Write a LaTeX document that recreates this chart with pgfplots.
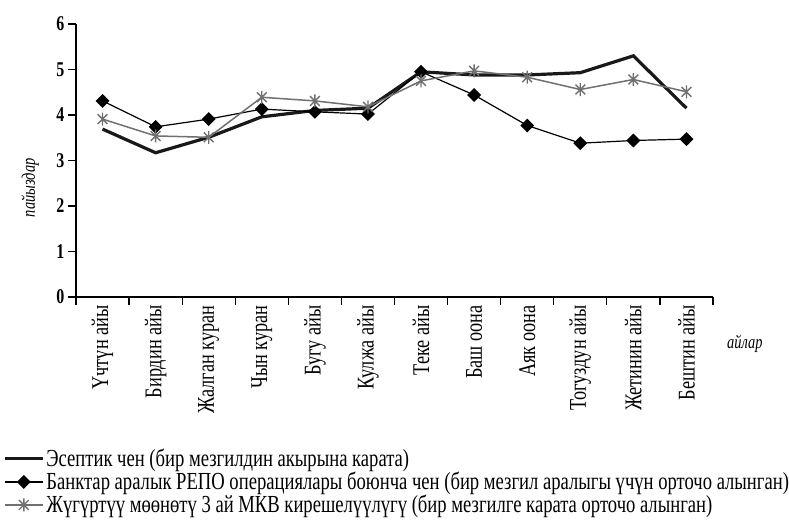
\documentclass[border=0pt]{standalone}
\usepackage{fontspec}
\setmainfont{Liberation Serif}[FakeStretch=0.76]
\usepackage{pgfplots}
\pgfplotsset{compat=1.18}
\definecolor{sgray}{HTML}{707070}
\pgfdeclareplotmark{xstar}{%
  \pgfpathmoveto{\pgfqpoint{0pt}{\pgfplotmarksize}}%
  \pgfpathlineto{\pgfqpoint{0pt}{-\pgfplotmarksize}}%
  \pgfpathmoveto{\pgfqpoint{-.75\pgfplotmarksize}{.75\pgfplotmarksize}}%
  \pgfpathlineto{\pgfqpoint{.75\pgfplotmarksize}{-.75\pgfplotmarksize}}%
  \pgfpathmoveto{\pgfqpoint{-.75\pgfplotmarksize}{-.75\pgfplotmarksize}}%
  \pgfpathlineto{\pgfqpoint{.75\pgfplotmarksize}{.75\pgfplotmarksize}}%
  \pgfusepathqstroke}
\begin{document}
\begin{tikzpicture}
\begin{axis}[
  scale only axis, width=637pt, height=273pt,
  xmin=0.5, xmax=12.5, ymin=0, ymax=6,
  axis lines=left,
  axis line style={line width=1.5pt, -},
  ytick={0,...,6},
  xtick={0.5,1.5,...,12.5},
  xticklabels={},
  extra x ticks={1,...,12},
  extra x tick labels={Үчтүн айы,Бирдин айы,Жалган куран,Чын куран,Бугу айы,Кулжа айы,Теке айы,Баш оона,Аяк оона,Тогуздун айы,Жетинин айы,Бештин айы},
  extra x tick style={major tick length=0pt},
  tick style={line width=1.2pt, black},
  tick align=outside,
  major tick length=8pt,
  xticklabel shift=5pt,
  x tick label style={rotate=90, anchor=east, font=\fontsize{24}{24}\selectfont},
  y tick label style={font=\fontsize{21}{21}\selectfont\bfseries},
  /pgf/number format/assume math mode=true,
  ylabel={пайыздар},
  ylabel style={font=\fontsize{19}{19}\selectfont\itshape, at={(axis description cs:-0.072,0.40)}, anchor=center, rotate=0},
  xlabel={айлар},
  xlabel style={font=\fontsize{19}{19}\selectfont\itshape, at={(axis description cs:1.05,-0.17)}, anchor=center},
  legend style={at={(axis description cs:-0.1146,-0.55)}, anchor=north west, draw=none, fill=none,
    font=\fontsize{24.5}{24.5}\selectfont, row sep=0pt, inner sep=0pt},
  legend cell align=left,
  legend image code/.code={\draw[mark repeat=2,mark phase=2] plot coordinates {(0pt,0pt) (19pt,0pt) (38pt,0pt)};},
]
\coordinate (top) at (rel axis cs:0,1);
\coordinate (right) at (rel axis cs:1,0);
\addplot[color=black!90, line width=3.2pt, mark=none] coordinates {
 (1,3.69) (2,3.17) (3,3.51) (4,3.96) (5,4.10) (6,4.15) (7,4.95) (8,4.88) (9,4.88) (10,4.93) (11,5.30) (12,4.15)};
\addlegendentry{Эсептик чен (бир мезгилдин акырына карата)}
\addplot[color=black, line width=1.2pt, mark=square*, mark size=4.3pt, mark options={solid, rotate=45}] coordinates {
 (1,4.31) (2,3.74) (3,3.91) (4,4.13) (5,4.07) (6,4.02) (7,4.95) (8,4.44) (9,3.77) (10,3.38) (11,3.44) (12,3.47)};
\addlegendentry{Банктар аралык РЕПО операциялары боюнча чен (бир мезгил аралыгы үчүн орточо алынган)}
\addplot[color=sgray, line width=1.5pt, mark=xstar, mark size=6.5pt, mark options={line width=1.4pt}] coordinates {
 (1,3.91) (2,3.54) (3,3.51) (4,4.39) (5,4.31) (6,4.18) (7,4.75) (8,4.97) (9,4.83) (10,4.56) (11,4.78) (12,4.51)};
\addlegendentry{Жүгүртүү мөөнөтү 3 ай МКВ кирешелүүлүгү (бир мезгилге карата орточо алынган)}
\end{axis}
\pgfresetboundingbox
\path[use as bounding box] ([xshift=-76pt,yshift=24pt]top) rectangle ([xshift=76pt,yshift=-224pt]right);
\end{tikzpicture}
\end{document}
